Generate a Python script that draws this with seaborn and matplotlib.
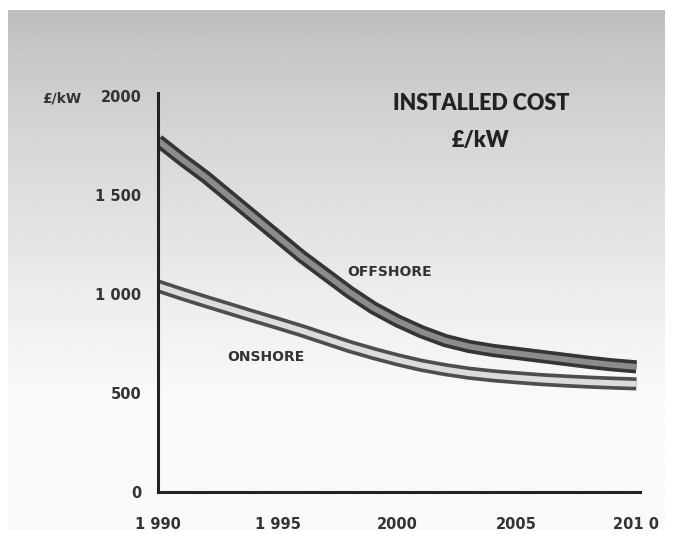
import numpy as np
import pandas as pd
import matplotlib
matplotlib.use("Agg")
import matplotlib.pyplot as plt
import seaborn as sns

# Installed cost of wind generation, £/kW
years = [1990, 1991, 1992, 1993, 1994, 1995, 1996, 1997, 1998, 1999, 2000,
         2001, 2002, 2003, 2004, 2005, 2006, 2007, 2008, 2009, 2010]
offshore = [1775, 1680, 1590, 1490, 1390, 1290, 1190, 1100, 1010, 930, 865,
            810, 765, 735, 715, 700, 685, 670, 655, 642, 632]
onshore = [1040, 1000, 962, 925, 888, 852, 815, 775, 735, 700, 668,
           640, 618, 600, 587, 577, 568, 561, 555, 550, 546]

x_ticks = [1990, 1995, 2000, 2005, 2010]
x_tick_labels = ["1 990", "1 995", "2000", "2005", "201 0"]
y_ticks = [0, 500, 1000, 1500, 2000]
y_tick_labels = ["0", "500", "1 000", "1 500", "2000"]

df = pd.DataFrame({"year": years, "OFFSHORE": offshore, "ONSHORE": onshore})

sns.set_style("white")
plt.rcParams["font.family"] = ["DejaVu Sans"]

W, H = 673, 538
fig = plt.figure(figsize=(W / 100, H / 100), dpi=100)
fig.patch.set_facecolor("white")

# shaded slide background: grey at the top fading to near white
bg = fig.add_axes([8 / W, 8 / H, (W - 16) / W, (H - 18) / H])
bg.set_axis_off()
t = np.linspace(0, 1, 400)[:, None]
shade = 0.74 + 0.24 * np.clip(t / 0.75, 0, 1) ** 0.8
shade = np.repeat(shade, 4, axis=1)
bg.imshow(shade, cmap="gray", vmin=0, vmax=1, aspect="auto",
          extent=[0, 1, 0, 1], origin="upper", interpolation="bilinear")

ax = fig.add_axes([158 / W, (H - 492) / H, (640 - 158) / W, (492 - 93) / H])
ax.patch.set_alpha(0)

bands = [("OFFSHORE", "#353535", "#8c8c8c"),
         ("ONSHORE", "#4e4e4e", "#dcdcdc")]
for name, edge, core in bands:
    sns.lineplot(data=df, x="year", y=name, ax=ax, color=edge,
                 linewidth=9.5, solid_capstyle="butt", solid_joinstyle="round")
    sns.lineplot(data=df, x="year", y=name, ax=ax, color=core,
                 linewidth=4.2, solid_capstyle="butt", solid_joinstyle="round")

ax.set_xlim(1990, 2010.15)
ax.set_ylim(0, 2015)
ax.set_xticks(x_ticks)
ax.set_xticklabels(x_tick_labels)
ax.set_yticks(y_ticks)
ax.set_yticklabels(y_tick_labels)
ax.set_xlabel("")
ax.set_ylabel("")

for side in ("top", "right"):
    ax.spines[side].set_visible(False)
for side in ("left", "bottom"):
    ax.spines[side].set_linewidth(2.2)
    ax.spines[side].set_color("#222222")

ax.tick_params(axis="both", which="major", direction="out", length=4,
               width=1.6, color="#222222", labelsize=10.5, labelcolor="#333333")
ax.tick_params(axis="x", pad=14)
ax.tick_params(axis="y", pad=8)
for lab in ax.get_xticklabels() + ax.get_yticklabels():
    lab.set_fontweight("bold")

fig.text(62 / W, 1 - 98 / H, "£/kW", fontsize=10, fontweight="bold",
         color="#333333", ha="center", va="center")

fig.text(481 / W, 1 - 104 / H, "INSTALLED COST", fontsize=15.5,
         fontweight="heavy", color="#222222", ha="center", va="center",
         family=["Lato", "DejaVu Sans"])
fig.text(481 / W, 1 - 141 / H, "£/kW", fontsize=15.5,
         fontweight="heavy", color="#222222", ha="center", va="center",
         family=["Lato", "DejaVu Sans"])

ax.text(1999.7, 1111, "OFFSHORE", fontsize=10, fontweight="bold",
        color="#333333", ha="center", va="center")
ax.text(1994.5, 682, "ONSHORE", fontsize=10, fontweight="bold",
        color="#333333", ha="center", va="center")

fig.savefig("out.png", dpi=100)
